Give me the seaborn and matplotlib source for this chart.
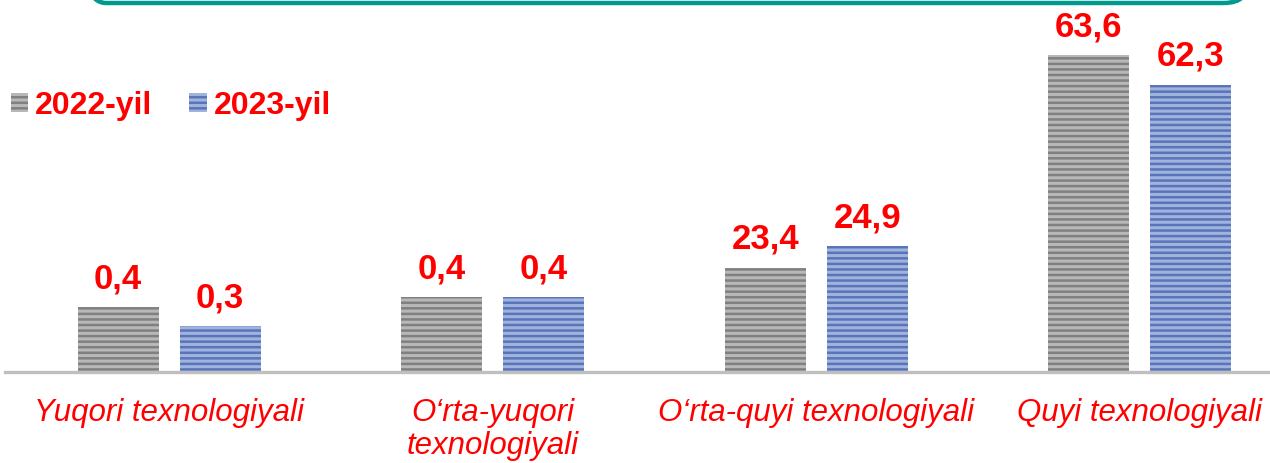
import matplotlib
matplotlib.use("Agg")
import matplotlib.pyplot as plt
import matplotlib.patches as mpatches
from matplotlib.transforms import IdentityTransform
import seaborn as sns
import pandas as pd

categories = ["Yuqori texnologiyali", "O‘rta-yuqori\ntexnologiyali",
              "O‘rta-quyi texnologiyali", "Quyi texnologiyali"]
years = ["2022-yil", "2023-yil"]
# printed values (labels)
labels_2022 = ["0,4", "0,4", "23,4", "63,6"]
labels_2023 = ["0,3", "0,4", "24,9", "62,3"]
# bar heights as drawn in the picture (non-proportional in the source)
heights_2022 = [13.0, 15.0, 20.9, 63.6]
heights_2023 = [9.2, 15.0, 25.3, 57.6]

face = {"2022-yil": "#B8B8B8", "2023-yil": "#A0B2DE"}
hatchc = {"2022-yil": "#808080", "2023-yil": "#5A74B8"}
RED = "#FF0000"

sns.set_theme(style="white")
plt.rcParams["font.family"] = ["Liberation Sans", "DejaVu Sans"]
plt.rcParams["hatch.linewidth"] = 1.8

df = pd.DataFrame({
    "category": categories * 2,
    "year": [years[0]] * 4 + [years[1]] * 4,
    "height": heights_2022 + heights_2023,
})

fig = plt.figure(figsize=(12.7, 4.63), dpi=100)
ax = fig.add_axes([5 / 1270, 91 / 463, 1265 / 1270, 372 / 463])

sns.barplot(data=df, x="category", y="height", hue="year", order=categories,
            hue_order=years, palette=face, width=0.63, gap=0.206,
            legend=False, ax=ax, linewidth=0)

for cont, yr, labs in zip(ax.containers, years, [labels_2022, labels_2023]):
    for p in cont:
        p.set_facecolor(face[yr])
        p.set_edgecolor(hatchc[yr])
        p.set_hatch("---")
        p.set_linewidth(0)
    ax.bar_label(cont, labels=labs, padding=8.5, color=RED, fontsize=25,
                 fontweight="bold")

ax.set_xlim(-0.507, 3.402)
ax.set_ylim(0, 74.6)
ax.set_yticks([])
ax.set_xlabel("")
ax.set_ylabel("")
for s in ["left", "top", "right"]:
    ax.spines[s].set_visible(False)
ax.spines["bottom"].set_color("#BFBFBF")
ax.spines["bottom"].set_linewidth(2.4)
ax.tick_params(axis="x", length=0, pad=19)
for t in ax.get_xticklabels():
    t.set_color(RED)
    t.set_fontsize(22.5)
    t.set_fontstyle("italic")
    t.set_linespacing(1.12)

handles = [mpatches.Patch(facecolor=face[y], edgecolor=hatchc[y], hatch="---",
                          linewidth=0, label=y) for y in years]
leg = fig.legend(handles=handles, loc="center left",
                 bbox_to_anchor=(11 / 1270, (463 - 106) / 463), ncol=2,
                 frameon=False, prop={"size": 23, "weight": "bold"},
                 labelcolor=RED, handlelength=0.54, handleheight=0.54,
                 handletextpad=0.22, columnspacing=1.15, borderpad=0,
                 borderaxespad=0)

box = mpatches.FancyBboxPatch((80, 460 - 0), 1170, 100,
                              boxstyle="round,pad=0,rounding_size=26",
                              transform=IdentityTransform(), facecolor="none",
                              edgecolor="#00998F", linewidth=3.2,
                              clip_on=False)
fig.patches.append(box)
box.set_figure(fig)

fig.savefig("out.png", dpi=100)
